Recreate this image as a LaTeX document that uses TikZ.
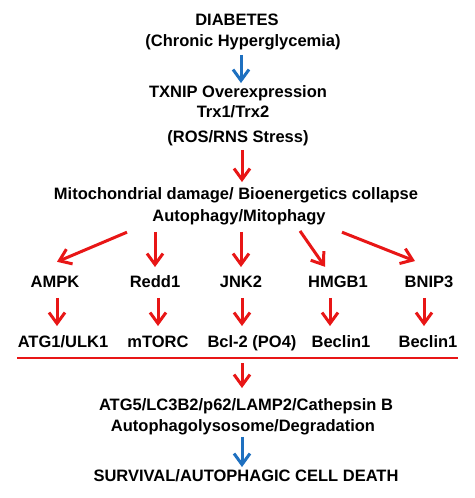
\documentclass[tikz,border=0pt]{standalone}
\usepackage{fontspec}
\setmainfont{Liberation Sans}
\usetikzlibrary{arrows.meta}
\definecolor{arrred}{RGB}{232,22,22}
\definecolor{arrblue}{RGB}{30,112,192}
\tikzset{
  lbl/.style={inner sep=2pt, text height=12pt, text depth=3.5pt, font=\fontsize{16.5}{19}\selectfont\bfseries},
  redarr/.style={draw=arrred, line width=3pt, -{Straight Barb[length=11pt,width=16pt]}},
  bluearr/.style={draw=arrblue, line width=3pt, -{Straight Barb[length=11pt,width=16pt]}}
}
\begin{document}
\begin{tikzpicture}[x=1pt, y=-1pt]
	  \useasboundingbox (0,0) rectangle (474,498);
	  \node[lbl] (dia) at (237,21) {DIABETES};
	  \node[lbl] (chg) at (243,42) {(Chronic Hyperglycemia)};
	  \node[lbl] (txnip) at (238,93) {TXNIP Overexpression};
	  \node[lbl] (trx) at (233,113) {Trx1/Trx2};
	  \node[lbl] (ros) at (238,138) {(ROS/RNS Stress)};
	  \node[lbl] (mito) at (236,195) {Mitochondrial damage/ Bioenergetics collapse};
	  \node[lbl] (auto) at (239,217) {Autophagy/Mitophagy};
	  
	  \node[lbl] (ampk) at (55,283) {AMPK};
	  \node[lbl] (redd) at (155,283) {Redd1};
	  \node[lbl] (jnk) at (241,283) {JNK2};
	  \node[lbl] (hmgb) at (338,283) {HMGB1};
	  \node[lbl] (bnip) at (429,283) {BNIP3};
	  
	  \node[lbl] (ulk) at (63,343) {ATG1/ULK1};
	  \node[lbl] (mtorc) at (158,343) {mTORC};
	  \node[lbl] (bcl) at (252,343) {Bcl-2 (PO4)};
	  \node[lbl] (becA) at (341,343) {Beclin1};
	  \node[lbl] (becB) at (428,343) {Beclin1};
	  
	  \coordinate (barL) at (17,358);
	  \coordinate (barR) at (458,358);
	  
	  \node[lbl] (atg5) at (246,406) {ATG5/LC3B2/p62/LAMP2/Cathepsin B};
	  \node[lbl] (lyso) at (243,427) {Autophagolysosome/Degradation};
	  \node[lbl] (surv) at (246,477) {SURVIVAL/AUTOPHAGIC CELL DEATH};
	  
	  % top of the cascade
	  \draw[bluearr, shorten <=3pt] (chg.south -| 241,0) -- (txnip.north -| 241,0);
	  \draw[redarr, shorten <=2pt, shorten >=3pt] (ros.south -| 242,0) -- (mito.north -| 242,0);
	  
	  % fan out to the five mediators
	  \draw[redarr] ([shift={(-112pt,-5.25pt)}]auto.south) -- ([shift={(2pt,11.25pt)}]ampk.north);
	  \draw[redarr, shorten <=5pt, shorten >=6pt] (auto.south -| redd.north) -- (redd.north);
	  \draw[redarr, shorten <=5pt, shorten >=6pt] (auto.south -| jnk.north) -- (jnk.north);
	  \draw[redarr] ([shift={(61pt,-4pt)}]auto.south) -- ([shift={(-13pt,6.25pt)}]hmgb.north);
	  \draw[redarr] ([shift={(103pt,-5.25pt)}]auto.south) -- ([shift={(-14pt,12pt)}]bnip.north);
	  
	  % mediators to targets
	  \foreach \from/\to/\dx in {ampk/ulk/2, redd/mtorc/3, jnk/bcl/1, hmgb/becA/-8, bnip/becB/-5}
	    \draw[redarr, shorten <=5pt, shorten >=7pt] ([xshift=\dx pt]\from.south) -- ([xshift=\dx pt]\from.south |- \to.north);
	  
	  \draw[arrred, line width=2pt] (barL) -- (barR);
	  \draw[redarr, shorten <=5pt, shorten >=8pt] (barL -| 242,0) -- (atg5.north -| 242,0);
	  \draw[bluearr] (lyso.south -| 242,0) -- (surv.north -| 242,0);
	\end{tikzpicture}
\end{document}
